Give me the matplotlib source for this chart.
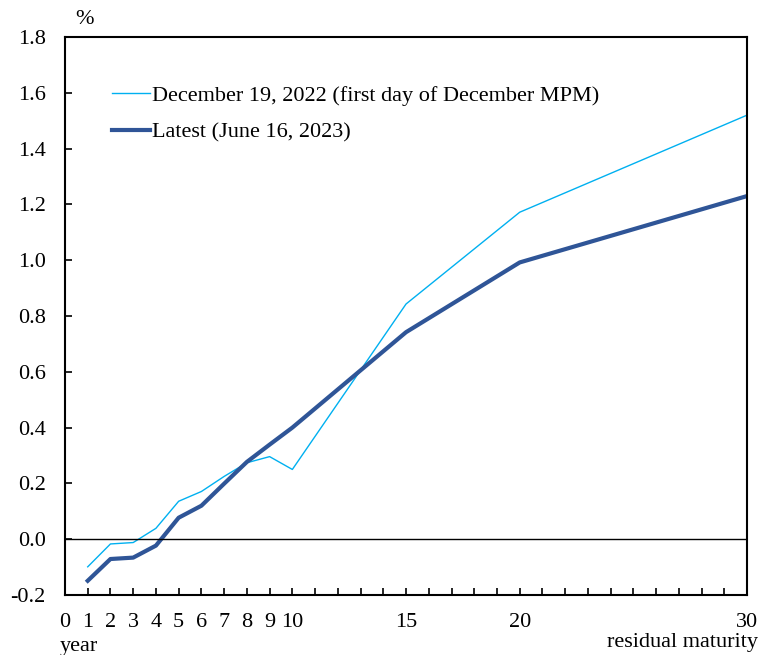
import numpy as np
import matplotlib
matplotlib.use("Agg")
from matplotlib import pyplot as plt

plt.rcParams['font.family'] = ['Liberation Serif', 'DejaVu Serif']

# residual maturity (years)
maturity = [1, 2, 3, 4, 5, 6, 7, 8, 9, 10, 15, 20, 30]
# yields, %
dec_2022 = [-0.099, -0.017, -0.012, 0.039, 0.136, 0.171, 0.225, 0.274, 0.296, 0.250, 0.843, 1.172, 1.520]
jun_2023 = [-0.149, -0.071, -0.066, -0.023, 0.077, 0.120, 0.199, 0.277, 0.339, 0.400, 0.742, 0.992, 1.230]

xticks = [0, 1, 2, 3, 4, 5, 6, 7, 8, 9, 10, 15, 20, 30]
yticks = [-0.2, 0.0, 0.2, 0.4, 0.6, 0.8, 1.0, 1.2, 1.4, 1.6, 1.8]

fig = plt.figure(figsize=(7.6, 6.55), dpi=100)
ax = fig.add_axes([0.0855, 0.0916, 0.8975, 0.8519])

ax.plot(maturity, dec_2022, color='#00B0F0', lw=1.0,
        label='December 19, 2022 (first day of December MPM)')
ax.plot(maturity, jun_2023, color='#2F5597', lw=3.0,
        label='Latest (June 16, 2023)')
ax.axhline(0, color='black', lw=1.0)

ax.set_xlim(0, 30)
ax.set_ylim(-0.2, 1.8)
ax.set_xticks(xticks)
ax.set_xticks(range(0, 31), minor=True)
ax.set_yticks(yticks)
ax.set_yticklabels(['%.1f' % v for v in yticks])
ax.tick_params(axis='both', which='both', direction='in', labelsize=16, length=5, width=1.2)
ax.tick_params(axis='x', which='major', pad=13)
ax.tick_params(axis='y', pad=14)
for s in ax.spines.values():
    s.set_linewidth(1.5)

fig.text(85 / 760, 1 - 20 / 655, '%', fontsize=16, ha='center', va='center')
fig.text(60 / 760, 1 - 646 / 655, 'year', fontsize=16, ha='left', va='center')
fig.text(0.998, 1 - 643 / 655, 'residual maturity', fontsize=16, ha='right', va='center')

ax.legend(loc='upper left', bbox_to_anchor=(0.069, 0.913), frameon=False, fontsize=16,
          borderpad=0, borderaxespad=0,
          handlelength=1.7, handletextpad=0.1, labelspacing=0.72)

fig.savefig('out.png', dpi=100)
